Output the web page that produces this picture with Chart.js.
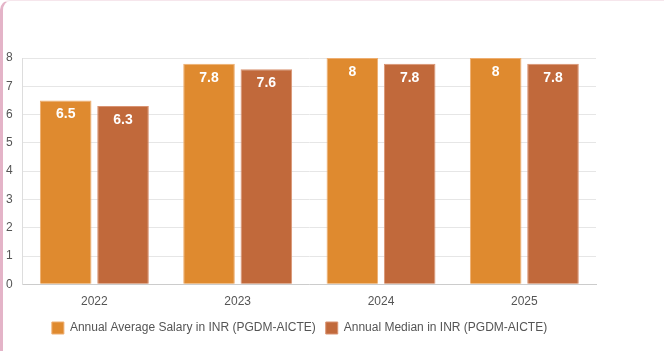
<!DOCTYPE html>
<html>
<head>
<meta charset="utf-8">
<script src="https://cdn.jsdelivr.net/npm/chart.js@4.4.1/dist/chart.umd.min.js"></script>
<style>
html,body{margin:0;padding:0;background:#fff;}
#wrap{position:relative;width:664px;height:351px;}
#inner{position:absolute;left:0;top:0;width:664px;height:351px;}
#frame{position:absolute;left:0;top:0;width:664px;height:351px;box-sizing:border-box;border-left:3px solid #e4b4c8;border-top:1px solid #f6e6ec;border-top-left-radius:10px;pointer-events:none;}
</style>
</head>
<body>
<div id="wrap"><div id="inner"><canvas id="c"></canvas></div><div id="frame"></div></div>
<script>
const categories = ["2022", "2023", "2024", "2025"];
const avgSalary = [6.5, 7.8, 8, 8];
const medianSalary = [6.3, 7.6, 7.8, 7.8];
const seriesNames = ["Annual Average Salary in INR (PGDM-AICTE)", "Annual Median in INR (PGDM-AICTE)"];
const yTicks = [0, 1, 2, 3, 4, 5, 6, 7, 8];

const labelPlugin = {
  id: 'barLabels',
  afterDatasetsDraw(chart) {
    const ctx = chart.ctx;
    ctx.save();
    ctx.fillStyle = '#ffffff';
    ctx.font = 'bold 14px "Liberation Sans", Arial, sans-serif';
    ctx.textAlign = 'center';
    ctx.textBaseline = 'middle';
    chart.data.datasets.forEach((ds, i) => {
      const meta = chart.getDatasetMeta(i);
      meta.data.forEach((bar, j) => {
        ctx.fillText(String(ds.data[j]), bar.x, bar.y + 14);
      });
    });
    ctx.restore();
  }
};

new Chart(document.getElementById('c'), {
  type: 'bar',
  data: {
    labels: categories,
    datasets: [
      { label: seriesNames[0], data: avgSalary, backgroundColor: '#df8a2f', borderColor: '#eeae70', borderWidth: 1 },
      { label: seriesNames[1], data: medianSalary, backgroundColor: '#c1693b', borderColor: '#d99372', borderWidth: 1 }
    ]
  },
  options: {
    responsive: true,
    maintainAspectRatio: false,
    animation: false,
    layout: { padding: { top: 58, right: 68, bottom: 7, left: 3 } },
    datasets: { bar: { categoryPercentage: 0.8, barPercentage: 0.9 } },
    scales: {
      x: {
        grid: { display: false, drawTicks: false },
        border: { color: '#cccccc' },
        ticks: { color: '#555', font: { size: 12, family: '"Liberation Sans", Arial, sans-serif' }, padding: 10 },
        afterFit(axis) { axis.height = 27.7; }
      },
      y: {
        min: 0, max: 8,
        afterBuildTicks(axis) { axis.ticks = yTicks.map(v => ({ value: v })); },
        grid: { color: '#e6e6e6', drawTicks: false },
        border: { color: '#dddddd' },
        ticks: { color: '#555', font: { size: 12, family: '"Liberation Sans", Arial, sans-serif' }, padding: 10 },
        afterFit(axis) { axis.width = 19.7; }
      }
    },
    plugins: {
      legend: {
        position: 'bottom',
        labels: { boxWidth: 12, boxHeight: 12, color: '#555', padding: 10, font: { size: 12, family: '"Liberation Sans", Arial, sans-serif' } }
      },
      tooltip: { enabled: false }
    }
  },
  plugins: [labelPlugin]
});
</script>
</body>
</html>
